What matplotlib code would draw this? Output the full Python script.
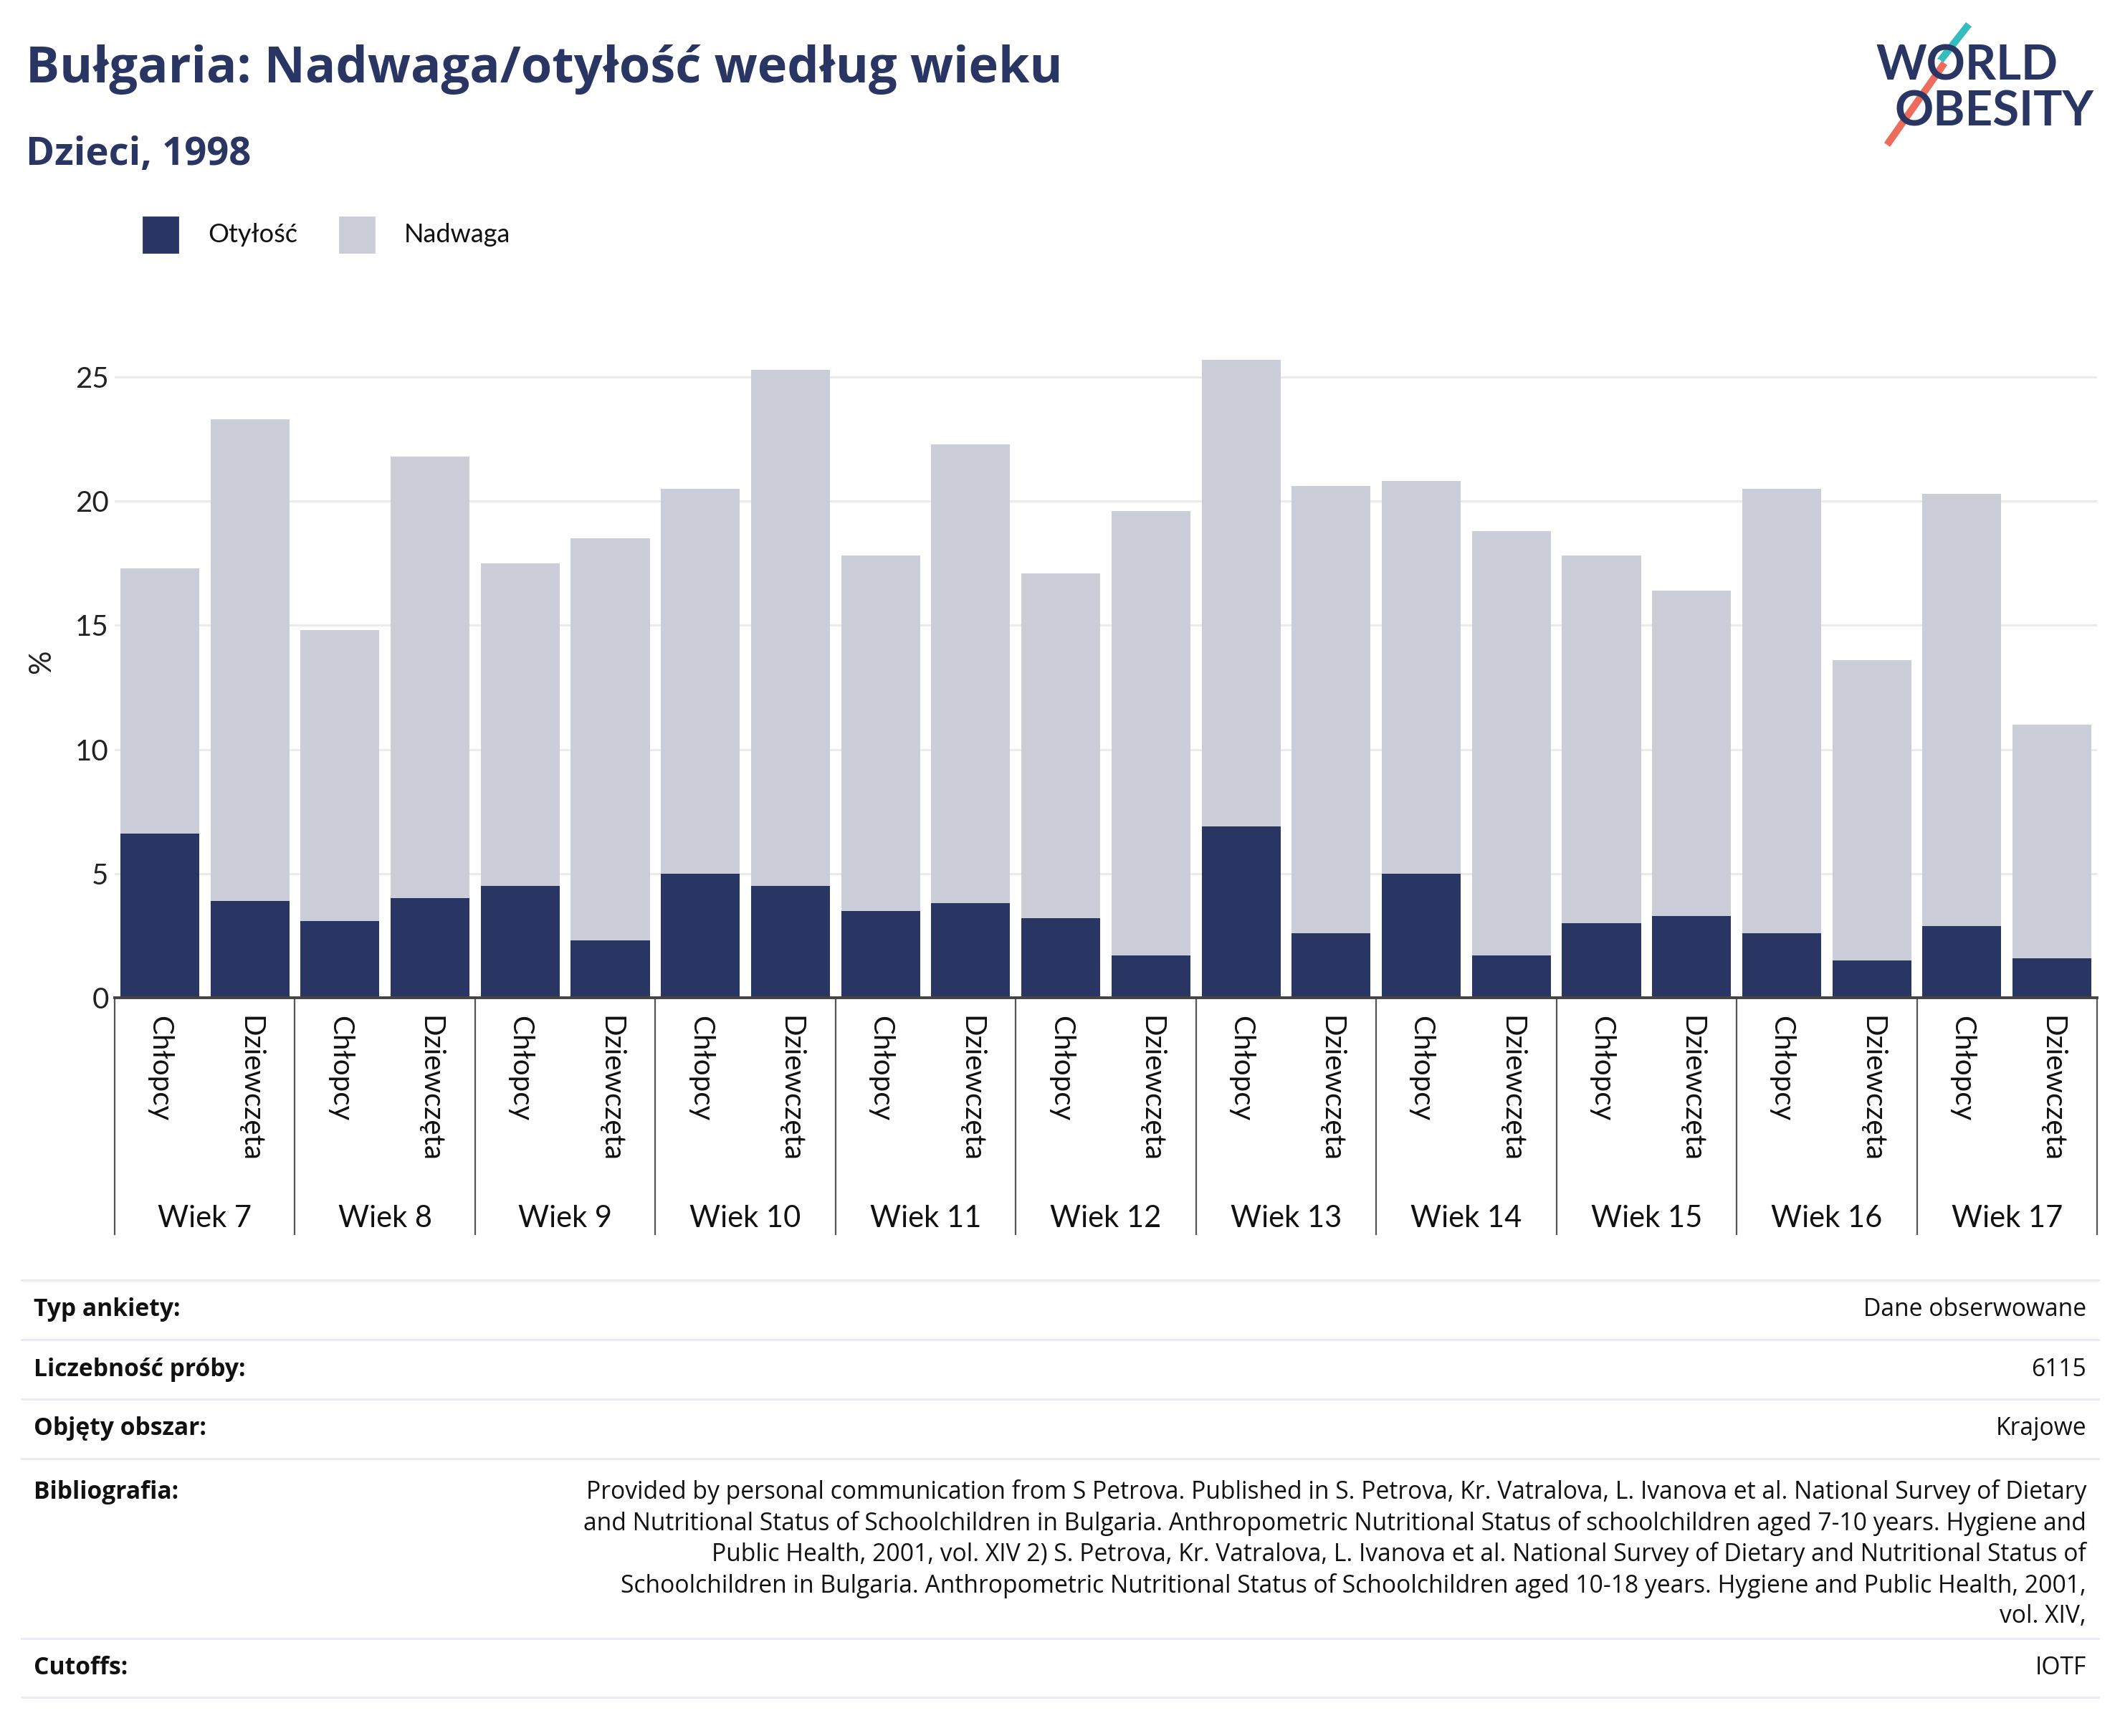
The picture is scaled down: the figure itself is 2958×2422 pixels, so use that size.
import matplotlib
matplotlib.use("Agg")
import matplotlib.pyplot as plt
from matplotlib.lines import Line2D
from matplotlib.patches import Rectangle
import matplotlib.transforms as mtransforms
import matplotlib.patheffects as pe

plt.rcParams['font.family'] = ['Lato', 'DejaVu Sans']
WIDE = ['Open Sans', 'DejaVu Sans']

# data (percent), order: age groups 7..17, boys then girls
ages = ["Wiek 7", "Wiek 8", "Wiek 9", "Wiek 10", "Wiek 11", "Wiek 12",
        "Wiek 13", "Wiek 14", "Wiek 15", "Wiek 16", "Wiek 17"]
sexes = ["Chłopcy", "Dziewczęta"]
overweight = [17.3, 23.3, 14.8, 21.8, 17.5, 18.5, 20.5, 25.3, 17.8, 22.3, 17.1,
              19.6, 25.7, 20.6, 20.8, 18.8, 17.8, 16.4, 20.5, 13.6, 20.3, 11.0]
obesity = [6.6, 3.9, 3.1, 4.0, 4.5, 2.3, 5.0, 4.5, 3.5, 3.8, 3.2,
           1.7, 6.9, 2.6, 5.0, 1.7, 3.0, 3.3, 2.6, 1.5, 2.9, 1.6]
yticks = [0, 5, 10, 15, 20, 25]

info_labels = ["Typ ankiety:", "Liczebność próby:", "Objęty obszar:", "Bibliografia:", "Cutoffs:"]
info_values = [
    "Dane obserwowane",
    "6115",
    "Krajowe",
    "Provided by personal communication from S Petrova. Published in S. Petrova, Kr. Vatralova, L. Ivanova et al. National Survey of Dietary\n"
    "and Nutritional Status of Schoolchildren in Bulgaria. Anthropometric Nutritional Status of schoolchildren aged 7-10 years. Hygiene and\n"
    "Public Health, 2001, vol. XIV 2) S. Petrova, Kr. Vatralova, L. Ivanova et al. National Survey of Dietary and Nutritional Status of\n"
    "Schoolchildren in Bulgaria. Anthropometric Nutritional Status of Schoolchildren aged 10-18 years. Hygiene and Public Health, 2001,\n"
    "vol. XIV,",
    "IOTF",
]

NAVY = "#293663"
GREY = "#cbcdd9"
W, H = 2958, 2422


def fx(x):
    return x / W


def fy(y):
    return 1 - y / H


fig = plt.figure(figsize=(W / 200, H / 200), dpi=200)
ax_left, ax_right, ax_bottom, ax_top = 160, 2926, 1392, 455
ax = fig.add_axes([fx(ax_left), fy(ax_bottom), fx(ax_right - ax_left), (ax_bottom - ax_top) / H])

n = len(overweight)
xs = list(range(n))
ax.bar(xs, overweight, width=0.875, color=GREY, zorder=2)
ax.bar(xs, obesity, width=0.875, color=NAVY, zorder=3)

ax.set_xlim(-0.5, n - 0.5)
ax.set_ylim(0, 27.05)
ax.set_yticks(yticks)
ax.yaxis.grid(True, color="#ebebeb", linewidth=1.1, zorder=0)
ax.set_axisbelow(True)
for s in ["top", "right", "left"]:
    ax.spines[s].set_visible(False)
ax.spines["bottom"].set_color("#444444")
ax.spines["bottom"].set_linewidth(1.4)
ax.spines["bottom"].set_zorder(4)
ax.tick_params(axis="y", length=0, pad=3, labelsize=14.5, labelcolor="#222222")

sub_labels = [s for _ in ages for s in sexes]
ax.set_xticks(xs)
ax.set_xticklabels(sub_labels, rotation=-90, va="top", ha="center", fontsize=14.5, color="#111111")
ax.tick_params(axis="x", length=0, pad=9)
ax.set_ylabel("%", fontsize=15, color="#222222", labelpad=10)

# group separators and group labels
trans = mtransforms.blended_transform_factory(ax.transData, ax.transAxes)
sep_bottom = -(1722 - ax_bottom) / (ax_bottom - ax_top)
for i in range(len(ages) + 1):
    xb = i * 2 - 0.5
    ax.add_line(Line2D([xb, xb], [0, sep_bottom], transform=trans, color="#555555",
                       linewidth=0.8, clip_on=False))
lab_y = -(1700 - ax_bottom) / (ax_bottom - ax_top)
for i, a in enumerate(ages):
    ax.text(i * 2 + 0.5, lab_y, a, transform=trans, ha="center", va="center",
            fontsize=15, color="#111111")

# title and subtitle
fig.text(fx(36), fy(115), "Bułgaria: Nadwaga/otyłość według wieku", fontsize=25.3,
         fontweight="bold", color=NAVY, va="baseline", family=WIDE)
fig.text(fx(36), fy(230), "Dzieci, 1998", fontsize=19.6, fontweight="bold",
         color=NAVY, va="baseline", family=WIDE)

# legend
for x0, col, lab in [(200, NAVY, "Otyłość"), (474, GREY, "Nadwaga")]:
    fig.add_artist(Rectangle((fx(x0), fy(352)), fx(48), 49 / H, color=col,
                             transform=fig.transFigure))
    fig.text(fx(x0 + 90), fy(328), lab, fontsize=13, color="#111111", va="center")

# logo
fig.text(fx(2617), fy(112), "WORLD", fontsize=24.2, fontweight="bold", color=NAVY, va="baseline")
fig.text(fx(2643), fy(176), "OBESITY", fontsize=24.2, fontweight="bold", color=NAVY, va="baseline")
white = [pe.Stroke(linewidth=7, foreground="white"), pe.Normal()]
fig.add_artist(Line2D([fx(2747), fx(2707)], [fy(34), fy(85)], color="#35bcbf",
                      linewidth=3.6, transform=fig.transFigure, path_effects=white,
                      solid_capstyle="butt"))
fig.add_artist(Line2D([fx(2713), fx(2633)], [fy(88), fy(202)], color="#ee6c5b",
                      linewidth=3.6, transform=fig.transFigure, path_effects=white,
                      solid_capstyle="butt"))

# info table
row_lines = [1786, 1869, 1952, 2035, 2286, 2368]
tfs = 12.1
for yl in row_lines:
    fig.add_artist(Line2D([fx(30), fx(2928)], [fy(yl), fy(yl)], color="#e9ecf5",
                          linewidth=1.1, transform=fig.transFigure))
for i, (lab, val) in enumerate(zip(info_labels, info_values)):
    ytop = row_lines[i]
    if i == 3:
        yt = 2082
        fig.text(fx(47), fy(yt), lab, fontsize=tfs, fontweight="bold", color="#111111",
                 va="center", family=WIDE)
        fig.text(fx(2911), fy(yt - 18), val, fontsize=tfs, color="#111111", ha="right",
                 va="top", multialignment="right", linespacing=1.32, family=WIDE)
    else:
        yc = (ytop + row_lines[i + 1]) / 2
        fig.text(fx(47), fy(yc), lab, fontsize=tfs, fontweight="bold", color="#111111",
                 va="center", family=WIDE)
        fig.text(fx(2911), fy(yc), val, fontsize=tfs, color="#111111", ha="right",
                 va="center", family=WIDE)

fig.savefig("out.png", dpi=200, facecolor="white")
